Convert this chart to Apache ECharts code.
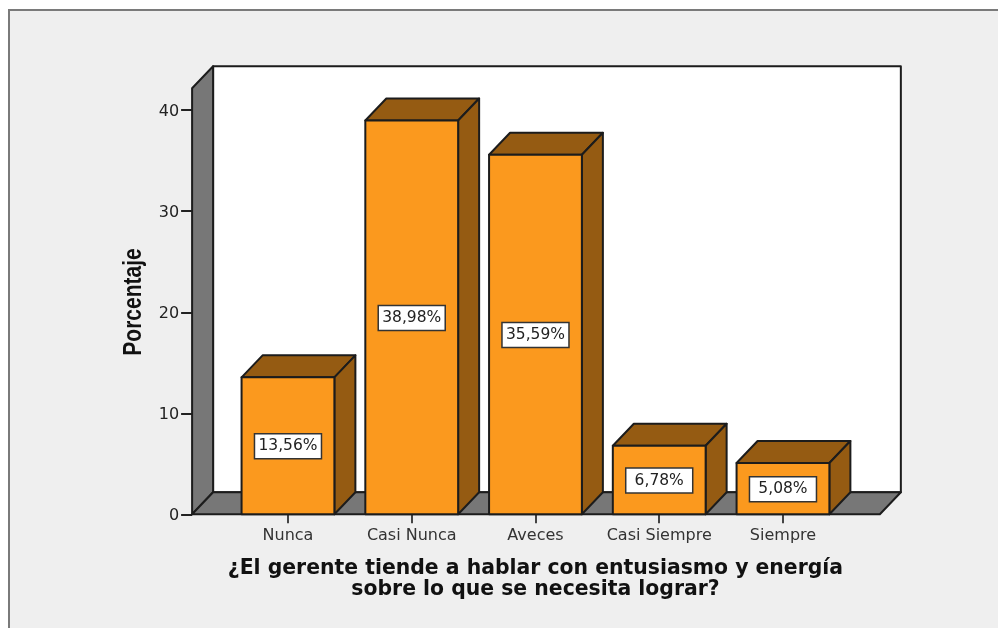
<!DOCTYPE html>
<html><head><meta charset="utf-8">
<style>html,body{margin:0;padding:0;background:#fff}#c{width:998px;height:628px}</style>
<script src="https://cdn.jsdelivr.net/npm/echarts@6/dist/echarts.min.js"></script>
</head><body><div id="c"></div>
<script>
const categories = ['Nunca', 'Casi Nunca', 'Aveces', 'Casi Siempre', 'Siempre'];
const percentages = [13.56, 38.98, 35.59, 6.78, 5.08];
const yTicks = [0, 10, 20, 30, 40];
const yMax = 42.17;
const xTitle = '¿El gerente tiende a hablar con entusiasmo y energía\nsobre lo que se necesita lograr?';
const yTitle = 'Porcentaje';

const DX = 21, DY = 22, LEFT_PAD = 34, RIGHT_PAD = 35;
const INK = '#1c1c1c', FRONT = '#FB991E', SIDE = '#955B12', WALL = '#777777';
const line = { stroke: INK, lineWidth: 2, lineJoin: 'round' };

function poly(points, fill) {
  return { type: 'polygon', shape: { points }, style: Object.assign({ fill }, line) };
}
function renderBackdrop(params, api) {
  const g = params.coordSys;
  const l = g.x - LEFT_PAD, r = g.x + g.width + RIGHT_PAD, t = g.y, b = g.y + g.height;
  return { type: 'group', children: [
    poly([[l + DX, t - DY], [r + DX, t - DY], [r + DX, b - DY], [l + DX, b - DY]], '#fff'),
    poly([[l, t], [l + DX, t - DY], [l + DX, b - DY], [l, b]], WALL),
    poly([[l, b], [l + DX, b - DY], [r + DX, b - DY], [r, b]], WALL)
  ]};
}
function renderBar(params, api) {
  const c = api.coord([api.value(0), 0]);
  const top = api.coord([api.value(0), api.value(1)])[1];
  const w = api.size([1, 0])[0] * 0.75;
  const x0 = c[0] - w / 2, x1 = c[0] + w / 2, y0 = c[1];
  const text = api.value(1).toFixed(2).replace('.', ',') + '%';
  const my = (top + y0) / 2 + 0.5;
  return { type: 'group', children: [
    poly([[x0, top], [x0 + DX, top - DY], [x1 + DX, top - DY], [x1, top]], SIDE),
    poly([[x1, top], [x1 + DX, top - DY], [x1 + DX, y0 - DY], [x1, y0]], SIDE),
    poly([[x0, top], [x1, top], [x1, y0], [x0, y0]], FRONT),
    { type: 'rect', shape: { x: c[0] - 33.5, y: my - 12.5, width: 67, height: 25 },
      style: { fill: '#fff', stroke: '#333', lineWidth: 1.5 } },
    { type: 'text', style: { x: c[0], y: my, text, align: 'center', verticalAlign: 'middle',
      fill: '#222', font: '15.5px "DejaVu Sans"' } }
  ]};
}

const chart = echarts.init(document.getElementById('c'), null, { renderer: 'canvas' });
chart.setOption({
  animation: false,
  backgroundColor: '#fff',
  graphic: [
    { type: 'rect', z: -10, silent: true,
      shape: { x: 9, y: 10, width: 1100, height: 800 },
      style: { fill: '#efefef', stroke: '#7a7a7a', lineWidth: 2 } },
    { type: 'text', z: 5, silent: true, x: 133.5, y: 302, rotation: Math.PI / 2, scaleY: 1.26,
      style: { text: yTitle, align: 'center', verticalAlign: 'middle', fill: '#111',
        font: 'bold 21px "Liberation Sans"' } }
  ],
  grid: { left: 226.1, top: 88.3, width: 618.75, height: 426 },
  xAxis: {
    type: 'category', data: categories,
    axisLine: { show: false },
    axisTick: { show: true, alignWithLabel: true, length: 9, lineStyle: { color: '#444', width: 2 } },
    axisLabel: { color: '#333', fontFamily: 'DejaVu Sans', fontSize: 16, margin: 14, interval: 0 },
    name: xTitle, nameLocation: 'middle', nameGap: 43.5,
    nameTextStyle: { color: '#111', fontFamily: 'DejaVu Sans', fontWeight: 'bold', fontSize: 20.4, lineHeight: 21 }
  },
  yAxis: {
    type: 'value', min: 0, max: yMax, interval: 10, offset: LEFT_PAD,
    splitLine: { show: false },
    axisLine: { show: false },
    axisTick: { show: true, length: 11, customValues: yTicks, lineStyle: { color: '#222', width: 2 } },
    axisLabel: { color: '#222', fontFamily: 'DejaVu Sans', fontSize: 16, margin: 13, verticalAlign: 'top', lineHeight: 3, customValues: yTicks }
  },
  series: [
    { type: 'custom', z: 1, clip: false, silent: true, renderItem: renderBackdrop, data: [[0, 0]] },
    { type: 'custom', z: 2, clip: false, silent: true, renderItem: renderBar,
      encode: { x: 0, y: 1 },
      data: percentages.map((v, i) => [i, v]) }
  ]
});
</script></body></html>
